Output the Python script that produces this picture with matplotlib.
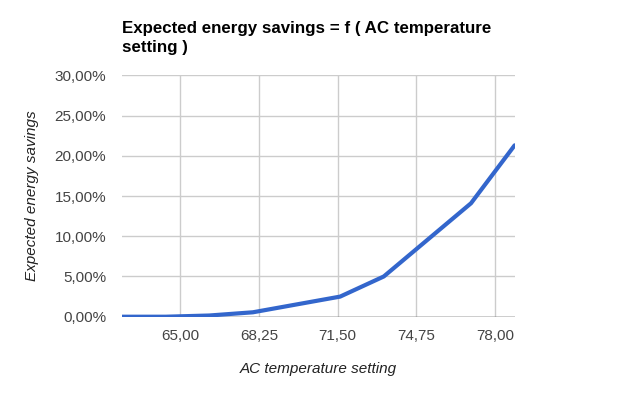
import matplotlib.pyplot as plt
from matplotlib.ticker import FuncFormatter

# AC setting in °F (17..26 °C) and expected savings in %
temp_f = [62.6, 64.4, 66.2, 68.0, 71.6, 73.4, 77.0, 78.8]
savings = [0.0, 0.0, 0.15, 0.55, 2.5, 5.0, 14.1, 21.3]

x_ticks = [65.0, 68.25, 71.5, 74.75, 78.0]
y_ticks = [0, 5, 10, 15, 20, 25, 30]

plt.rcParams["font.family"] = ["Liberation Sans", "DejaVu Sans"]

fig = plt.figure(figsize=(6.36, 3.93), dpi=100)
ax = fig.add_axes([0.1918, 0.1941, 0.6174, 0.6143])

ax.plot(temp_f, savings, color="#3366cc", linewidth=3, solid_capstyle="round", zorder=3)

ax.set_xlim(62.6, 78.8)
ax.set_ylim(0, 30)
ax.set_xticks(x_ticks)
ax.set_yticks(y_ticks)
ax.xaxis.set_major_formatter(FuncFormatter(lambda v, p: f"{v:.2f}".replace(".", ",")))
ax.yaxis.set_major_formatter(FuncFormatter(lambda v, p: f"{v:.2f}".replace(".", ",") + "%"))

ax.grid(True, color="#cccccc", linewidth=1)
ax.set_axisbelow(True)
for s in ax.spines.values():
    s.set_visible(False)
ax.axhline(0, color="#333333", linewidth=1, zorder=2)
ax.tick_params(length=0, labelsize=11, colors="#444444")
ax.tick_params(axis="x", pad=9)
ax.tick_params(axis="y", pad=11.5)

ax.set_xlabel("AC temperature setting", fontsize=11, style="italic", color="#222222", labelpad=13.5)
ax.set_ylabel("Expected energy savings", fontsize=11, style="italic", color="#222222", labelpad=11)

fig.text(122 / 636, 1 - 21 / 393, "Expected energy savings = f ( AC temperature\nsetting )",
         fontsize=12.2, fontweight="bold", ha="left", va="top", linespacing=1.3)

fig.savefig("out.png", dpi=100)
